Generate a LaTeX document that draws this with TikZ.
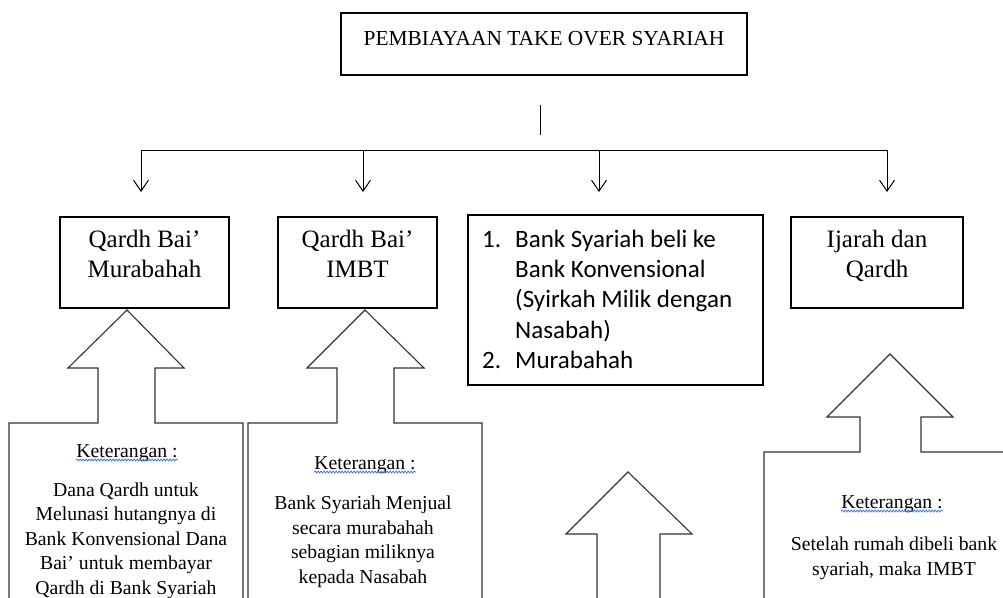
\documentclass[tikz,border=0pt]{standalone}
\usepackage{fontspec}
\setmainfont{Liberation Serif}
\newfontfamily\calfont{Carlito}
\usetikzlibrary{arrows.meta,decorations.pathmorphing}
\definecolor{linegray}{HTML}{333333}
\definecolor{wavyblue}{HTML}{3F6FE0}
\begin{document}
\begin{tikzpicture}[x=1pt,y=-1pt,
  box/.style={draw=black, line width=1.1pt, inner sep=0pt},
  lbl/.style={inner sep=0pt, anchor=base, align=center, font=\fontsize{25}{30}\selectfont},
  ttl/.style={inner sep=0pt, anchor=base, font=\fontsize{21.4}{25}\selectfont},
  ket/.style={inner sep=0pt, anchor=base, font=\fontsize{19.7}{24}\selectfont},
  body/.style={inner sep=0pt, anchor=base, align=center, font=\fontsize{19.7}{24.5}\selectfont},
  lst/.style={inner sep=0pt, anchor=base west, align=left, font=\calfont\fontsize{25}{30.4}\selectfont},
  conn/.style={draw=black, line width=1pt},
  arr/.style={conn, -{Straight Barb[length=11pt,width=15pt,line width=1pt]}},
  blockarrow/.style={draw=linegray, line width=1.1pt, line join=miter},
  wavy/.style={draw=wavyblue, line width=0.8pt, decorate, decoration={snake, amplitude=0.9pt, segment length=3pt}}
]
\useasboundingbox (0,0) rectangle (1003,597);
\clip (0,0) rectangle (1003,597);

% title
\node[box, minimum width=406pt, minimum height=62pt] (topbox) at (544,44) {};
\node[ttl] (title) at (544,45) {PEMBIAYAAN TAKE OVER SYARIAH};

% connectors
\coordinate (v1) at (540,105);
\coordinate (v2) at (540,135);
\draw[conn] (v1) -- (v2);
\coordinate (busL) at (141,150);
\coordinate (busR) at (887,150);
\coordinate (d2) at (363,150);
\coordinate (d3) at (599,150);
\coordinate (e1) at (141,192);
\coordinate (e2) at (363,192);
\coordinate (e3) at (599,192);
\coordinate (e4) at (887,192);
\draw[conn] (busL) -- (busR);
\draw[arr] (busL) -- (e1);
\draw[arr] (d2) -- (e2);
\draw[arr] (d3) -- (e3);
\draw[arr] (busR) -- (e4);

% second-level boxes (multi-line nodes are placed by their last baseline)
\node[box, minimum width=169pt, minimum height=91pt] (b1) at (144.5,262.5) {};
\node[lbl] (t1) at (144.5,277) {Qardh Bai’\\Murabahah};
\node[box, minimum width=159pt, minimum height=91pt] (b2) at (357.5,262.5) {};
\node[lbl] (t2) at (357.5,277) {Qardh Bai’\\IMBT};
\node[box, minimum width=295pt, minimum height=170pt] (b3) at (615.5,300) {};
\node[lst] (n1) at (482,247) {1.};
\node[lst] (n2) at (482,368.6) {2.};
\node[lst] (t3) at (515,368.6) {Bank Syariah beli ke\\Bank Konvensional\\(Syirkah Milik dengan\\Nasabah)\\Murabahah};
\node[box, minimum width=172pt, minimum height=91pt] (b4) at (877,262.5) {};
\node[lbl] (t4) at (877,277) {Ijarah dan\\Qardh};

% callout 1
\draw[blockarrow] (9,610) -- (9,423) -- (98,423) -- (98,368) -- (68,368) -- (127,310)
  -- (184,368) -- (155,368) -- (155,423) -- (243,423) -- (243,610);
\node[ket] (k1) at (127,457) {Keterangan :};
\draw[wavy] ([yshift=-3pt]k1.base west) -- ([yshift=-3pt]k1.base east);
\node[body] (c1) at (126,594) {Dana Qardh untuk\\Melunasi hutangnya di\\Bank Konvensional Dana\\Bai’ untuk membayar\\Qardh di Bank Syariah};

% callout 2
\draw[blockarrow] (248,610) -- (248,423) -- (337,423) -- (337,368) -- (307,368) -- (365,310)
  -- (424,368) -- (394,368) -- (394,423) -- (482,423) -- (482,610);
\node[ket] (k2) at (365,469) {Keterangan :};
\draw[wavy] ([yshift=-3pt]k2.base west) -- ([yshift=-3pt]k2.base east);
\node[body] (c2) at (363,583) {Bank Syariah Menjual\\secara murabahah\\sebagian miliknya\\kepada Nasabah};

% middle arrow
\draw[blockarrow] (597,610) -- (597,534) -- (566,534) -- (628,472) -- (692,534) -- (660,534) -- (660,610);

% callout 4
\draw[blockarrow] (764,610) -- (764,452) -- (860,452) -- (860,417) -- (827,417) -- (890,354)
  -- (953,417) -- (921,417) -- (921,452) -- (1010,452);
\node[ket] (k4) at (892,508) {Keterangan :};
\draw[wavy] ([yshift=-3pt]k4.base west) -- ([yshift=-3pt]k4.base east);
\node[body] (c4) at (894,575) {Setelah rumah dibeli bank\\syariah, maka IMBT};
\end{tikzpicture}
\end{document}
